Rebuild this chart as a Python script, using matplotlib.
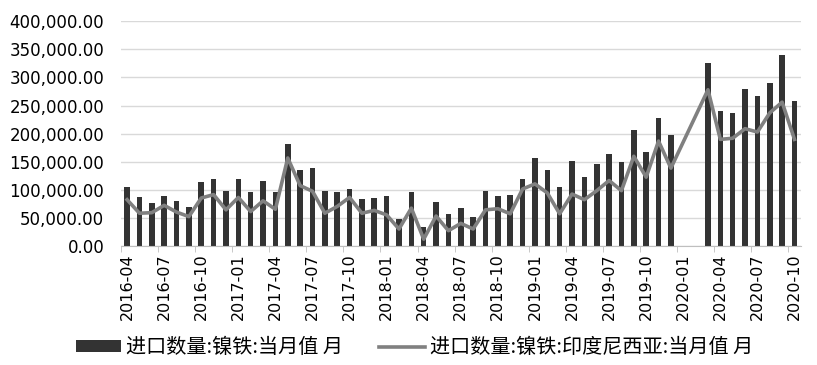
import numpy as np
import pandas as pd
import matplotlib
matplotlib.use('Agg')
import matplotlib.pyplot as plt
from matplotlib.ticker import FuncFormatter, FixedLocator

# data, 2020-01/02 have no value
months = [p.strftime('%Y-%m') for p in pd.period_range('2016-04', '2020-10', freq='M')]

total = [106000, 88000, 77000, 90000, 80000, 70000, 114000, 120000, 99000,
         120000, 96000, 116000, 96000, 182000, 135000, 140000, 98000, 96000, 102000, 84000, 86000,
         90000, 48000, 96000, 35000, 79000, 58000, 68000, 53000, 98000, 89000, 92000, 120000,
         157000, 135000, 105000, 152000, 123000, 147000, 164000, 150000, 206000, 168000, 228000, 198000,
         None, None, 326000, 241000, 236000, 280000, 267000, 290000, 340000, 258000]

indonesia = [83000, 59000, 60000, 73000, 61000, 53000, 86000, 92000, 65000,
             87000, 62000, 81000, 66000, 157000, 108000, 98000, 59000, 71000, 87000, 59000, 64000,
             56000, 31000, 68000, 13000, 54000, 28000, 41000, 31000, 65000, 67000, 58000, 102000,
             111000, 95000, 58000, 93000, 83000, 99000, 117000, 99000, 160000, 123000, 187000, 139000,
             None, None, 278000, 190000, 192000, 209000, 203000, 237000, 256000, 190000]

label_bar = '进口数量:镍铁:当月值 月'
label_line = '进口数量:镍铁:印度尼西亚:当月值 月'

x = np.arange(len(months))
tot = np.array([np.nan if v is None else v for v in total], dtype=float)
ind = np.array([np.nan if v is None else v for v in indonesia], dtype=float)
mb = ~np.isnan(tot)
ml = ~np.isnan(ind)

fig = plt.figure(figsize=(8.17, 3.65), dpi=100)
ax = fig.add_axes([0.148, 0.3247, 0.832, 0.6178])

bars = ax.bar(x[mb], tot[mb], width=0.45, color='#333333', label=label_bar, zorder=2)
line, = ax.plot(x[ml], ind[ml], color='#808080', linewidth=2.6, label=label_line, zorder=3)

ax.set_xlim(-0.5, len(months) - 0.5)
ax.set_ylim(0, 400000)
ax.set_yticks(np.arange(0, 400001, 50000))
ax.yaxis.set_major_formatter(FuncFormatter(lambda v, p: '{:,.2f}'.format(v)))
ax.grid(axis='y', color='#d9d9d9', linewidth=1, zorder=0)
ax.set_axisbelow(True)

lab_idx = list(range(0, len(months), 3))
ax.set_xticks(lab_idx)
ax.set_xticklabels([months[i] for i in lab_idx], rotation=90, fontsize=11.5)
ax.xaxis.set_minor_locator(FixedLocator([i - 0.5 for i in lab_idx]))
ax.tick_params(axis='x', which='major', length=0, pad=5)
ax.tick_params(axis='x', which='minor', length=4, color='#bfbfbf')
ax.tick_params(axis='y', length=0, pad=12, labelsize=12)

for s in ['top', 'right', 'left']:
    ax.spines[s].set_visible(False)
ax.spines['bottom'].set_color('#bfbfbf')

fig.legend(handles=[bars, line], labels=[label_bar, label_line],
           loc='center', bbox_to_anchor=(0.507, 0.047), ncol=2, frameon=False,
           prop={'family': ['Noto Sans CJK SC', 'DejaVu Sans'], 'size': 14.5},
           handlelength=2.25, handleheight=0.5, handletextpad=0.25, columnspacing=1.8)

fig.savefig('out.png', dpi=100)
